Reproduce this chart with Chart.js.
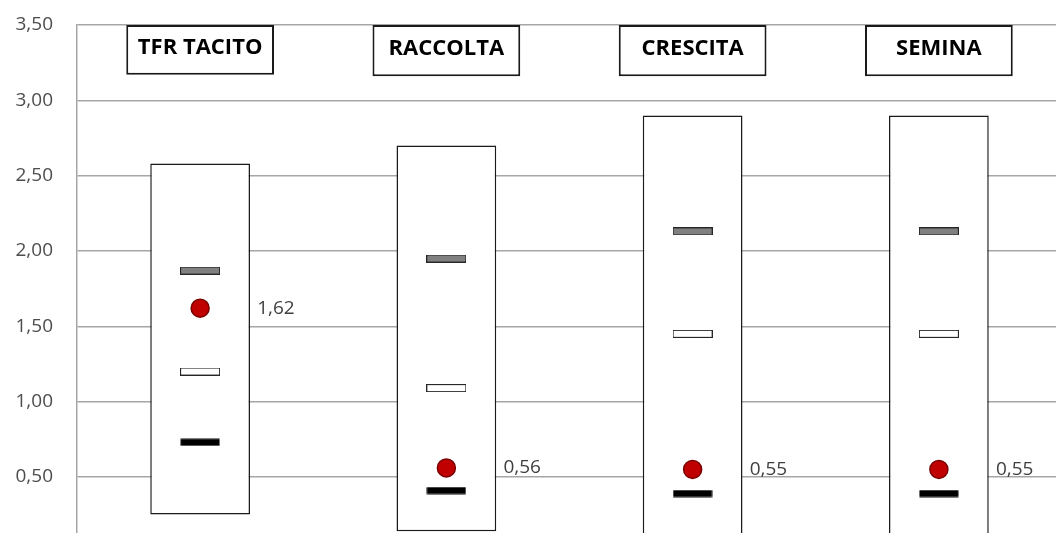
<!DOCTYPE html>
<html lang="it">
<head>
    <meta charset="UTF-8">
    <title>TFR Tacito, Raccolta, Crescita, Semina</title>
    <script src="https://cdn.jsdelivr.net/npm/chart.js"></script>
    <style>
        html, body {
            margin: 0;
            padding: 0;
            background: #ffffff;
            overflow: hidden;
        }
        #boxChart {
            display: block;
        }
    </style>
</head>
<body>
    <canvas id="boxChart" width="1062" height="533"></canvas>

    <script>
        // dati
        const categories = ["TFR TACITO", "RACCOLTA", "CRESCITA", "SEMINA"];
        const boxLow = [0.25, 0.14, 0.05, 0.05];
        const boxHigh = [2.58, 2.70, 2.90, 2.90];
        const titleLow = [3.17, 3.16, 3.16, 3.16];
        const titleHigh = [3.50, 3.50, 3.50, 3.50];
        const grayMark = [1.87, 1.95, 2.13, 2.13];
        const whiteMark = [1.20, 1.09, 1.45, 1.45];
        const blackMark = [0.73, 0.41, 0.39, 0.39];
        const dotValues = [1.62, 0.56, 0.55, 0.55];
        const yTicks = [0.5, 1.0, 1.5, 2.0, 2.5, 3.0, 3.5];

        const fmt = v => v.toFixed(2).replace(".", ",");

        // trattini orizzontali usati come pointStyle
        function makeDash(fill, stroke) {
            const c = document.createElement("canvas");
            c.width = 40;
            c.height = 8;
            const g = c.getContext("2d");
            g.fillStyle = fill;
            g.fillRect(0.5, 0.5, 39, 7);
            if (stroke) {
                g.strokeStyle = stroke;
                g.lineWidth = 1;
                g.strokeRect(0.5, 0.5, 39, 7);
            }
            return c;
        }

        const labelsPlugin = {
            id: "labelsPlugin",
            afterDatasetsDraw(chart) {
                const ctx = chart.ctx;
                ctx.save();
                // titoli nei riquadri
                chart.getDatasetMeta(0).data.forEach((bar, i) => {
                    ctx.font = "bold 22px 'Open Sans'";
                    ctx.fillStyle = "#000000";
                    ctx.textAlign = "center";
                    ctx.textBaseline = "middle";
                    ctx.fillText(categories[i], bar.x, (bar.y + bar.base) / 2 - 2);
                });
                // etichette dei punti rossi
                chart.getDatasetMeta(5).data.forEach((pt, i) => {
                    ctx.font = "19px 'Open Sans'";
                    ctx.fillStyle = "#404040";
                    ctx.textAlign = "left";
                    ctx.textBaseline = "middle";
                    ctx.fillText(fmt(dotValues[i]), pt.x + 57, pt.y);
                });
                ctx.restore();
            }
        };

        const ctx = document.getElementById("boxChart").getContext("2d");
        const boxChart = new Chart(ctx, {
            type: "bar",
            data: {
                labels: categories,
                datasets: [
                    {
                        data: categories.map((c, i) => [titleLow[i], titleHigh[i]]),
                        backgroundColor: "#ffffff",
                        borderColor: "#1a1a1a",
                        borderWidth: 2,
                        borderSkipped: false,
                        grouped: false,
                        barPercentage: 0.6,
                        categoryPercentage: 1,
                        order: 6
                    },
                    {
                        data: categories.map((c, i) => [boxLow[i], boxHigh[i]]),
                        backgroundColor: "#ffffff",
                        borderColor: "#1a1a1a",
                        borderWidth: 1.5,
                        borderSkipped: false,
                        grouped: false,
                        barPercentage: 0.405,
                        categoryPercentage: 1,
                        order: 5
                    },
                    {
                        type: "line",
                        data: grayMark,
                        showLine: false,
                        pointStyle: makeDash("#808080", "#262626"),
                        pointRadius: 3,
                        order: 3
                    },
                    {
                        type: "line",
                        data: whiteMark,
                        showLine: false,
                        pointStyle: makeDash("#ffffff", "#262626"),
                        pointRadius: 3,
                        order: 3
                    },
                    {
                        type: "line",
                        data: blackMark,
                        showLine: false,
                        pointStyle: makeDash("#000000", null),
                        pointRadius: 3,
                        order: 3
                    },
                    {
                        type: "line",
                        data: dotValues,
                        showLine: false,
                        pointStyle: "circle",
                        pointRadius: 9,
                        pointBackgroundColor: "#c00000",
                        pointBorderColor: "#7a0000",
                        pointBorderWidth: 1.5,
                        order: 1
                    }
                ]
            },
            options: {
                responsive: false,
                animation: false,
                events: [],
                layout: {
                    autoPadding: false,
                    padding: { top: 25, left: 0, right: 0, bottom: 0 }
                },
                plugins: {
                    legend: { display: false },
                    tooltip: { enabled: false }
                },
                scales: {
                    x: {
                        display: false
                    },
                    y: {
                        min: 0.128,
                        max: 3.5,
                        afterBuildTicks: s => {
                            s.ticks = yTicks.map(v => ({ value: v }));
                        },
                        afterFit: s => {
                            s.width = 77;
                            s.paddingTop = 0;
                            s.paddingBottom = 0;
                        },
                        ticks: {
                            padding: 24,
                            color: "#4d4d4d",
                            font: { family: "'Open Sans'", size: 19 },
                            callback: v => fmt(v)
                        },
                        grid: {
                            color: "#a6a6a6",
                            lineWidth: 1.5,
                            drawTicks: false
                        },
                        border: {
                            display: true,
                            color: "#a6a6a6",
                            width: 1.5
                        }
                    }
                }
            },
            plugins: [labelsPlugin]
        });
    </script>
</body>
</html>
